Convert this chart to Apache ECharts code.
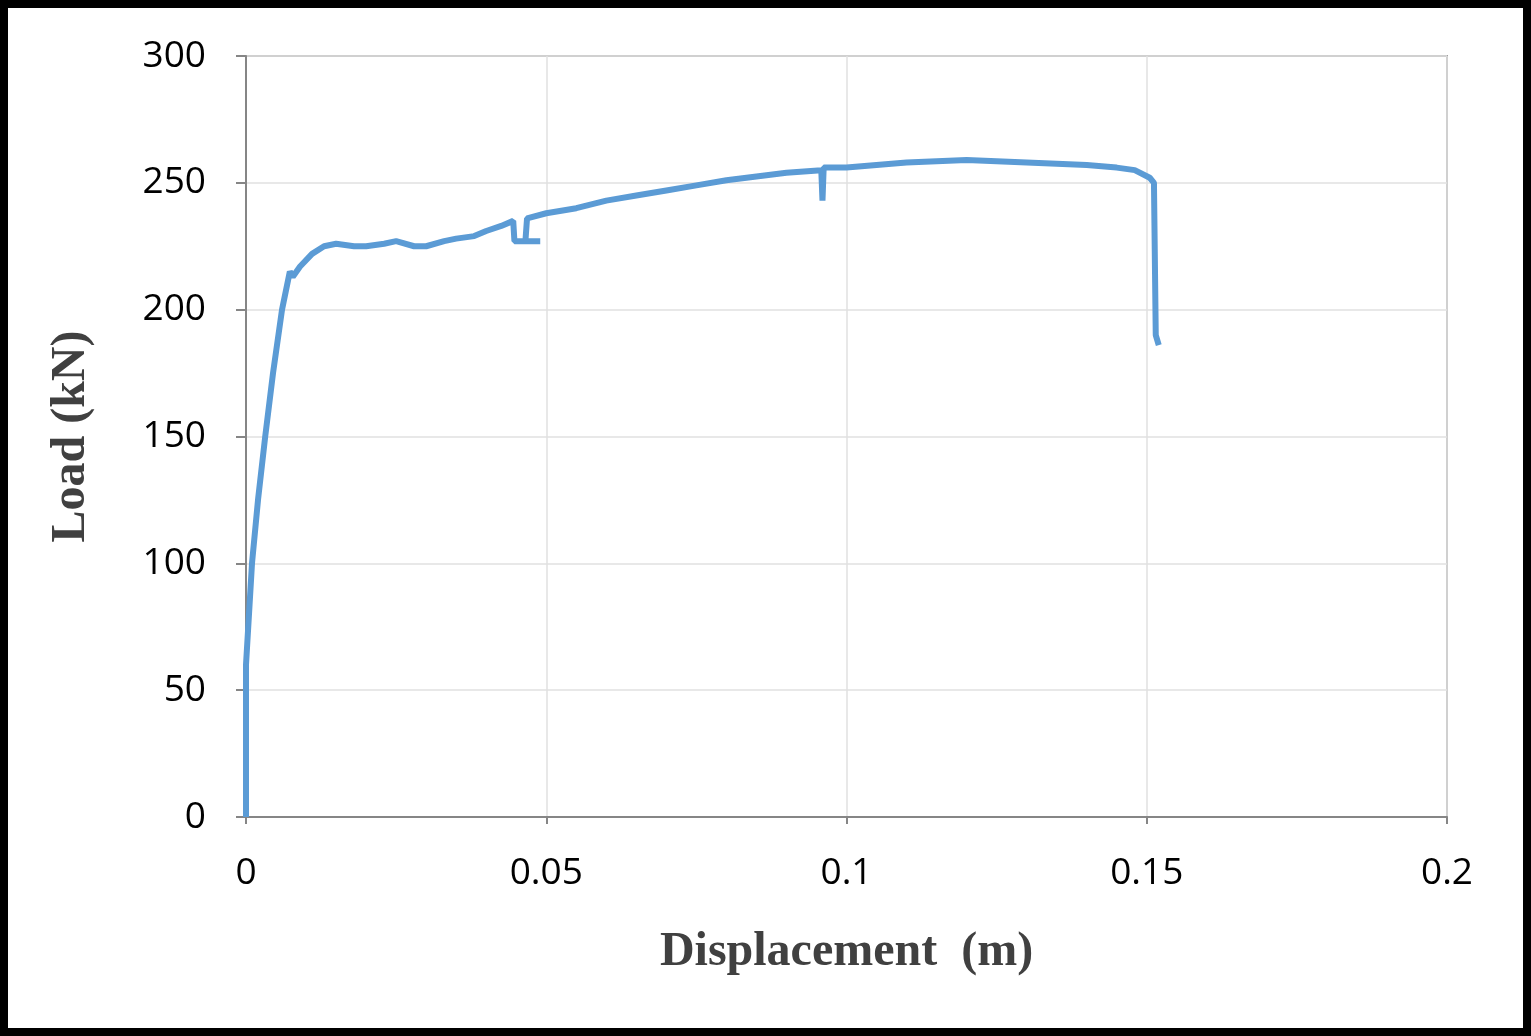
<!DOCTYPE html>
<html><head><meta charset="utf-8">
<script src="https://cdn.jsdelivr.net/npm/echarts@6/dist/echarts.min.js"></script>
<style>html,body{margin:0;padding:0;background:#000}#c{position:absolute;left:8px;top:8px;width:1515px;height:1020px;background:#fff}</style>
</head><body><div id="c"></div>
<script>
const displacement=[0,0,0.0005,0.001,0.002,0.0032,0.0045,0.006,0.0073,0.0078,0.009,0.011,0.013,0.015,0.018,0.02,0.023,0.025,0.028,0.03,0.033,0.035,0.038,0.04,0.0425,0.0445,0.0447,0.049,0.0465,0.0465,0.0468,0.05,0.055,0.06,0.065,0.07,0.075,0.08,0.085,0.09,0.0958,0.096,0.0962,0.1,0.105,0.11,0.115,0.12,0.125,0.13,0.135,0.14,0.145,0.148,0.1505,0.1512,0.1515,0.152];
const load=[0,60,80,100,125,150,175,200,215,213,217,222,225,226,225,225,226,227,225,225,227,228,229,231,233,235,227,227,227,226,236,238,240,243,245,247,249,251,252.5,254,255,243,256,256,257,258,258.5,259,258.5,258,257.5,257,256,255,252,250,190,186];
const xTicks=[0,0.05,0.1,0.15,0.2];
const yTicks=[0,50,100,150,200,250,300];
const chart=echarts.init(document.getElementById('c'));
chart.setOption({
  animation:false,
  grid:{left:238,right:76,top:48,bottom:211},
  xAxis:{type:'value',min:0,max:0.2,interval:0.05,
    name:'Displacement  (m)',nameLocation:'middle',nameGap:112,
    nameTextStyle:{fontFamily:'Liberation Serif',fontWeight:'bold',fontSize:48,color:'#404040'},
    axisLine:{show:true,lineStyle:{color:'#868686',width:2}},
    axisTick:{show:true,length:7,inside:false,lineStyle:{color:'#868686',width:2}},
    axisLabel:{fontFamily:'Open Sans',fontSize:37,color:'#000',margin:38,formatter:v=>String(v)},
    splitLine:{show:true,lineStyle:{color:'#e0e0e0',width:1.5}}},
  yAxis:{type:'value',min:0,max:300,interval:50,
    name:'Load (kN)',nameLocation:'middle',nameGap:150,nameRotate:90,
    nameTextStyle:{fontFamily:'Liberation Serif',fontWeight:'bold',fontSize:48,color:'#404040'},
    axisLine:{show:true,lineStyle:{color:'#868686',width:2}},
    axisTick:{show:true,length:10,lineStyle:{color:'#868686',width:2}},
    axisLabel:{fontFamily:'Open Sans',fontSize:37,color:'#000',margin:40},
    splitLine:{show:true,lineStyle:{color:'#e0e0e0',width:1.5}}},
  graphic:[{type:'rect',shape:{x:238,y:48,width:1201,height:761},style:{fill:'none',stroke:'#a0a0a0',lineWidth:2},silent:true,z:-1}],
  series:[{type:'line',data:displacement.map((d,i)=>[d,load[i]]),showSymbol:false,
    lineStyle:{color:'#5b9bd5',width:6}}]
});
</script></body></html>
